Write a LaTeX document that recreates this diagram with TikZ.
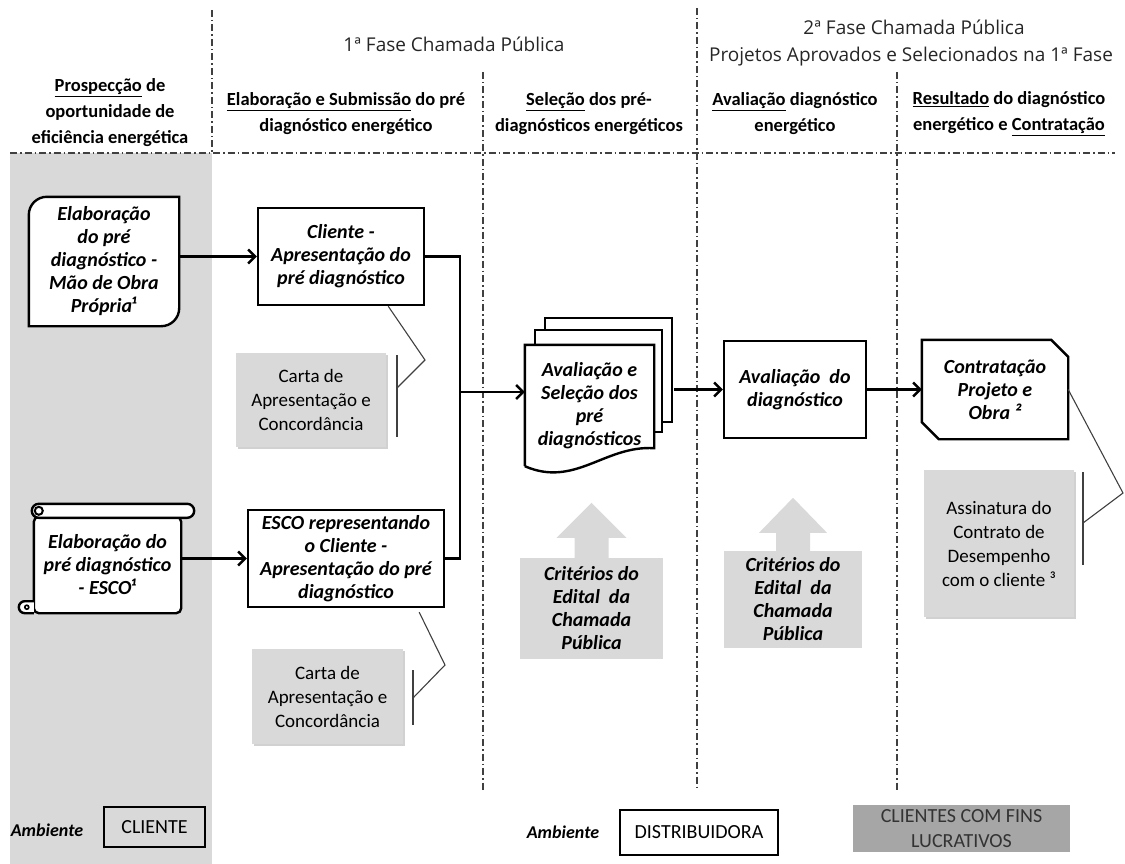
\documentclass[tikz,border=0pt]{standalone}
\usepackage{fontspec}
\setmainfont{Carlito}
\newfontfamily\phasefont{Open Sans}
\usetikzlibrary{arrows.meta,calc,shadows,backgrounds}
\definecolor{panelgray}{HTML}{D9D9D9}
\definecolor{darkpanel}{HTML}{A6A6A6}
\definecolor{rulegray}{HTML}{404040}
\tikzset{
  lane/.style={draw=rulegray, line width=1.1pt, dash pattern=on 7pt off 3pt on 1.5pt off 3pt},
  phase/.style={font=\phasefont\fontsize{19}{22}\selectfont, text=black!85},
  colhead/.style={font=\bfseries\fontsize{18.5}{26}\selectfont, align=center},
  task/.style={draw, line width=2.4pt, fill=white, align=center, inner sep=0pt,
    font=\bfseries\itshape\fontsize{20}{23}\selectfont},
  bare/.style={task, draw=none, fill=none},
  shapeline/.style={line width=2.4pt, fill=white},
  note/.style={fill=panelgray, align=center, font=\fontsize{19}{24}\selectfont,
    drop shadow={shadow xshift=1.5pt, shadow yshift=-2pt, fill=black!40, opacity=.45}},
  crit/.style={fill=panelgray, align=center, font=\bfseries\itshape\fontsize{20}{23}\selectfont},
  envbox/.style={draw, line width=2.2pt, font=\fontsize{20}{25}\selectfont, align=center},
  envlabel/.style={font=\bfseries\itshape\fontsize{18}{20}\selectfont},
  flow/.style={line width=2.4pt},
  flowarrow/.style={flow, -{Straight Barb[length=7pt,width=14pt]}},
  callout/.style={draw=black!75, line width=1.1pt},
}
\begin{document}
\begin{tikzpicture}[x=1pt, y=-1pt]
  \useasboundingbox (0,0) rectangle (1125,864);
  % lanes
  \draw[lane] (10,153) -- (1115,153);
  \draw[lane] (212,10) -- (212,153);
  \draw[lane] (483,72) -- (483,790);
  \draw[lane] (697,8) -- (697,790);
  \draw[lane] (897,72) -- (897,790);

  % headers
  \node[phase] (ph1) at (454,44) {1ª Fase Chamada Pública};
  \node[phase] (ph2) at (914,27) {2ª Fase Chamada Pública};
  \node[phase] (ph2b) at (911,57) {Projetos Aprovados e Selecionados na 1ª Fase};
  \node[colhead] (h1) at (110,113) {\underline{Prospecção} de\\oportunidade de\\eficiência energética};
  \node[colhead] (h2) at (346,114) {\underline{Elaboração e Submissão} do pré\\diagnóstico energético};
  \node[colhead] (h3) at (589,114) {\underline{Seleção} dos pré-\\diagnósticos energéticos};
  \node[colhead] (h4) at (795,114) {\underline{Avaliação} diagnóstico\\energético};
  \node[colhead] (h5) at (1009,114) {\underline{Resultado} do diagnóstico\\energético e \underline{Contratação}};

  % tasks
  \node[bare, minimum width=148pt, minimum height=127pt] (A1) at (104,261.5)
    {Elaboração\\do pré\\diagnóstico -\\Mão de Obra\\Própria¹};
  \node[task, minimum width=166pt, minimum height=97pt] (B1) at (341,256.5)
    {Cliente -\\Apresentação do\\pré diagnóstico};
  \node[bare, minimum width=145pt, minimum height=94pt] (A2) at (107.5,565)
    {Elaboração do\\pré diagnóstico\\- ESCO¹};
  \node[task, minimum width=196pt, minimum height=97pt] (B2) at (346,558.5)
    {ESCO representando\\o Cliente -\\Apresentação do pré\\diagnóstico};
  \node[bare, minimum width=127pt, minimum height=119pt] (docA) at (589.5,405.5)
    {Avaliação e\\Seleção dos\\pré\\diagnósticos};
  \node[task, minimum width=142pt, minimum height=97pt] (D1) at (795,389.5)
    {Avaliação~~do\\diagnóstico};
  \node[bare, minimum width=144pt, minimum height=97pt] (E1) at (995,389.5)
    {Contratação\\Projeto e\\Obra ²};

  % notes
  \node[note, minimum width=150pt, minimum height=94pt] (C1) at (311,400)
    {Carta de\\Apresentação e\\Concordância};
  \node[note, minimum width=151pt, minimum height=95pt] (C2) at (327.5,696.5)
    {Carta de\\Apresentação e\\Concordância};
  \node[note, minimum width=150pt, minimum height=147pt] (F1) at (999,543.5)
    {Assinatura do\\Contrato de\\Desempenho\\com o cliente ³};

  % criteria
  \node[crit, minimum width=143pt, minimum height=101pt] (K1) at (591.5,608.5)
    {Critérios do\\Edital~~da\\Chamada\\Pública};
  \node[crit, minimum width=138pt, minimum height=97pt] (K2) at (793,599.5)
    {Critérios do\\Edital~~da\\Chamada\\Pública};
  \fill[panelgray] ($(K1.north)+(-17,1)$) -- ++(0,-21) -- ++(-18,0) -- ($(K1.north)+(0,-55)$)
    -- ($(K1.north)+(35,-20)$) -- ++(-18,0) -- ++(0,21) -- cycle;
  \fill[panelgray] ($(K2.north)+(-17,1)$) -- ++(0,-19) -- ++(-17,0) -- ($(K2.north)+(0,-53)$)
    -- ($(K2.north)+(34,-18)$) -- ++(-17,0) -- ++(0,19) -- cycle;

  % ambiente
  \node[envlabel] (amb1) at (47,830) {Ambiente};
  \node[envbox, minimum width=101pt, minimum height=40pt] (env1) at (154.5,827) {CLIENTE};
  \node[envlabel] (amb2) at (563,832) {Ambiente};
  \node[envbox, minimum width=158pt, minimum height=45pt] (env2) at (699,832.5) {DISTRIBUIDORA};
  \node[envbox, draw=none, fill=darkpanel, text=black!80, minimum width=217pt, minimum height=47pt]
    (env3) at (961.5,828.5) {CLIENTES COM FINS\\LUCRATIVOS};

  % shapes
  \begin{scope}[on background layer]
    \fill[panelgray] (10,153) rectangle (212,864);
    \draw[shapeline] (A1.south west) -- ([yshift=-18pt]A1.north west)
      arc[start angle=180, end angle=90, radius=18pt] -- (A1.north east)
      -- ([yshift=18pt]A1.south east) arc[start angle=0, end angle=-90, radius=18pt] -- cycle;
    \draw[shapeline, rounded corners=5pt] (A2.north west) rectangle (A2.south east);
    \draw[shapeline, rounded corners=7pt] ([xshift=-2pt,yshift=13pt]A2.north west)
      rectangle ([xshift=13pt,yshift=-1pt]A2.north east);
    \draw[line width=2pt] ([xshift=5pt,yshift=6pt]A2.north west) circle[radius=4pt];
    \draw[shapeline] (A2.south west) -- ++(-9,0) arc[start angle=270, end angle=90, radius=6pt] -- ++(9,0);
    \draw[line width=1.6pt] ([xshift=-7pt,yshift=6pt]A2.south west) circle[radius=2pt];
    \draw[shapeline] ([xshift=20pt,yshift=27pt]docA.north west) rectangle ++(127,104);
    \draw[shapeline] ([xshift=10pt,yshift=15pt]docA.north west) rectangle ++(127,102);
    \draw[shapeline] (docA.south west) -- (docA.north west) -- (docA.north east)
      -- ([yshift=18pt]docA.south east) .. controls (605,445) and (575,488) .. (docA.south west);
    \draw[shapeline] (E1.north west) -- ([xshift=-17pt]E1.north east) -- ([yshift=-17pt]E1.north east)
      -- (E1.south east) -- ([xshift=17pt]E1.south west) -- ([yshift=17pt]E1.south west) -- cycle;
  \end{scope}

  % flow
  \coordinate (join) at (460,392);
  \draw[flowarrow] (A1.east |- B1.west) -- (B1.west);
  \draw[flowarrow] (A2.east |- B2.west) -- (B2.west);
  \draw[flow] (B1.east) -| (join) |- (B2.east);
  \draw[flowarrow] (join) -- (join -| docA.west);
  \draw[flowarrow] ([xshift=20pt]docA.east |- D1.west) -- (D1.west);
  \draw[flowarrow] (D1.east) -- (E1.west);

  % callouts
  \coordinate (k1) at (425,360);
  \coordinate (m1) at (397,388);
  \draw[callout] ([xshift=-37pt]B1.south east) -- (k1) -- (m1);
  \draw[callout] (397,355) -- (397,437);
  \coordinate (k2) at (445,665);
  \coordinate (m2) at (413,698);
  \draw[callout] ([xshift=-26pt,yshift=-4pt]B2.south east) -- (k2) -- (m2);
  \draw[callout] (413,670) -- (413,725);
  \coordinate (k3) at (1123,493);
  \coordinate (m3) at (1083,523);
  \draw[callout] (E1.east) -- (k3) -- (m3);
  \draw[callout] (1083,472) -- (1083,565);
\end{tikzpicture}
\end{document}
